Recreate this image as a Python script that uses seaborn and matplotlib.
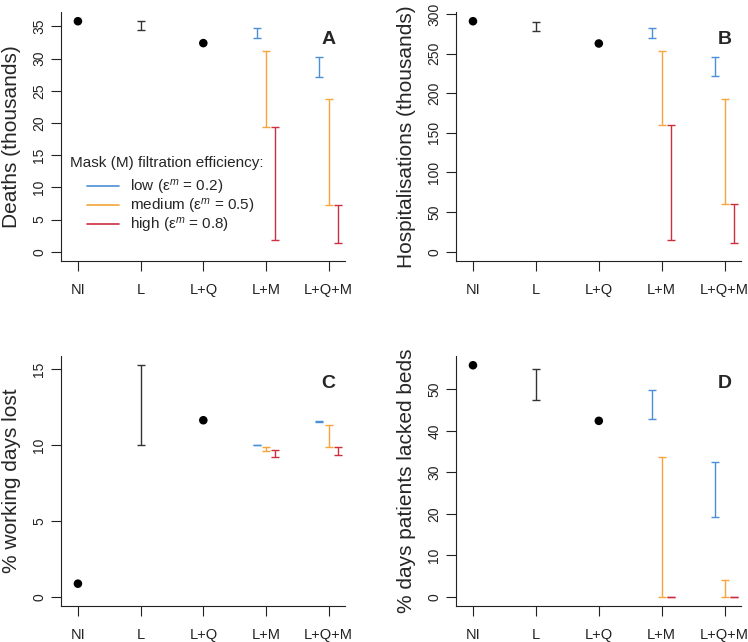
import numpy as np
import pandas as pd
import matplotlib
matplotlib.use("Agg")
import matplotlib.pyplot as plt
from matplotlib.lines import Line2D
import seaborn as sns

# ── Data ──────────────────────────────────────────────────────────────────────
CATEGORIES = ["NI", "L", "L+Q", "L+M", "L+Q+M"]
MASK_LEVELS = ["low", "medium", "high"]
MASK_EPS = ["0.2", "0.5", "0.8"]
MASK_COLORS = ["#4a8fd8", "#f5a53a", "#cc2f3d"]
MASK_OFFSET = [-0.15, 0.0, 0.15]

# single values (NI, L+Q) and lockdown interval (L)
deaths_points = [35.8, 32.4]
deaths_L = [34.4, 35.8]
deaths_LM_lo = [33.2, 19.4, 1.8]
deaths_LM_hi = [34.8, 31.1, 19.4]
deaths_LQM_lo = [27.2, 7.3, 1.4]
deaths_LQM_hi = [30.2, 23.7, 7.3]

hosp_points = [290.8, 262.7]
hosp_L = [279.0, 290.4]
hosp_LM_lo = [269.4, 159.5, 14.7]
hosp_LM_hi = [282.4, 253.0, 159.5]
hosp_LQM_lo = [222.0, 60.0, 11.3]
hosp_LQM_hi = [245.5, 192.6, 60.0]

work_points = [0.86, 11.62]
work_L = [10.02, 15.24]
work_LM_lo = [9.96, 9.60, 9.21]
work_LM_hi = [10.00, 9.89, 9.63]
work_LQM_lo = [11.51, 9.85, 9.32]
work_LQM_hi = [11.58, 11.29, 9.85]

beds_points = [55.8, 42.4]
beds_L = [47.4, 55.0]
beds_LM_lo = [42.8, 0.0, 0.0]
beds_LM_hi = [49.8, 33.8, 0.0]
beds_LQM_lo = [19.2, 0.0, 0.0]
beds_LQM_hi = [32.6, 4.0, 0.0]

PANELS = [
    ("A", "Deaths (thousands)", np.arange(0, 36, 5),
     deaths_points, deaths_L, deaths_LM_lo, deaths_LM_hi, deaths_LQM_lo, deaths_LQM_hi),
    ("B", "Hospitalisations (thousands)", np.arange(0, 301, 50),
     hosp_points, hosp_L, hosp_LM_lo, hosp_LM_hi, hosp_LQM_lo, hosp_LQM_hi),
    ("C", "% working days lost", np.arange(0, 16, 5),
     work_points, work_L, work_LM_lo, work_LM_hi, work_LQM_lo, work_LQM_hi),
    ("D", "% days patients lacked beds", np.arange(0, 51, 10),
     beds_points, beds_L, beds_LM_lo, beds_LM_hi, beds_LQM_lo, beds_LQM_hi),
]

# ── Style ─────────────────────────────────────────────────────────────────────
sns.set_theme(style="ticks")
plt.rcParams["font.family"] = ["Liberation Sans", "DejaVu Sans"]
plt.rcParams["mathtext.fontset"] = "custom"
plt.rcParams["mathtext.rm"] = "Liberation Sans"
plt.rcParams["mathtext.it"] = "Liberation Sans:italic"

W, H = 748, 642
fig = plt.figure(figsize=(W / 100, H / 100), dpi=100)
# axes boxes in pixels: left, top, right, bottom
BOXES = [(61, 12, 345, 261), (456, 12, 741, 261),
         (61, 356, 345, 606), (456, 356, 741, 606)]


def interval(ax, x, lo, hi, color):
    mid = (lo + hi) / 2
    ax.errorbar([x], [mid], yerr=[[mid - lo], [hi - mid]], fmt="none",
                ecolor=color, elinewidth=1.0, capsize=2.6, capthick=1.0)


for (letter, ylabel, yticks, pts, L_iv, lm_lo, lm_hi, lqm_lo, lqm_hi), box in zip(PANELS, BOXES):
    l, t, r, b = box
    ax = fig.add_axes([l / W, (H - b) / H, (r - l) / W, (b - t) / H])

    pt_df = pd.DataFrame({"x": [1, 3], "y": pts})
    sns.scatterplot(data=pt_df, x="x", y="y", color="black", s=38,
                    edgecolor="none", ax=ax, legend=False, zorder=3)
    interval(ax, 2, L_iv[0], L_iv[1], "#333333")
    for k in range(3):
        interval(ax, 4 + MASK_OFFSET[k], lm_lo[k], lm_hi[k], MASK_COLORS[k])
        interval(ax, 5 + MASK_OFFSET[k], lqm_lo[k], lqm_hi[k], MASK_COLORS[k])

    ymax = max(max(pts), max(L_iv), max(lm_hi), max(lqm_hi))
    ax.set_ylim(-0.04 * ymax, 1.04 * ymax)
    ax.set_xlim(0.73, 5.26)
    ax.set_xticks(range(1, 6))
    ax.set_xticklabels(CATEGORIES, fontsize=10.5)
    ax.set_yticks(yticks)
    ax.set_yticklabels([str(v) for v in yticks], fontsize=10, rotation=90, va="center")
    ax.tick_params(axis="x", length=7.5, width=0.8, pad=8, colors="#222222")
    ax.tick_params(axis="y", length=7.5, width=0.8, pad=3, colors="#222222")
    ax.set_xlabel("")
    ax.set_ylabel(ylabel, fontsize=15)
    ax.yaxis.set_label_coords(-0.14, 0.5)
    sns.despine(ax=ax)
    for s in ["left", "bottom"]:
        ax.spines[s].set_linewidth(0.8)
        ax.spines[s].set_color("#222222")
    ax.text(5, 0.89, letter, transform=ax.get_xaxis_transform(),
            ha="center", va="center", fontsize=14, fontweight="bold")

    if letter == "A":
        ax.text(0.032, 0.394, "Mask (M) filtration efficiency:",
                transform=ax.transAxes, ha="left", va="center", fontsize=11)
        handles = [Line2D([], [], color=c, lw=1.2) for c in MASK_COLORS]
        labels = [f"{lvl} (ε$^{{m}}$ = {e})" for lvl, e in zip(MASK_LEVELS, MASK_EPS)]
        ax.legend(handles, labels, loc="upper left", bbox_to_anchor=(0.09, 0.335),
                  frameon=False, fontsize=11, borderpad=0, borderaxespad=0,
                  handlelength=2.1, handletextpad=0.75, labelspacing=0.02)

fig.savefig("out.png", dpi=100)
